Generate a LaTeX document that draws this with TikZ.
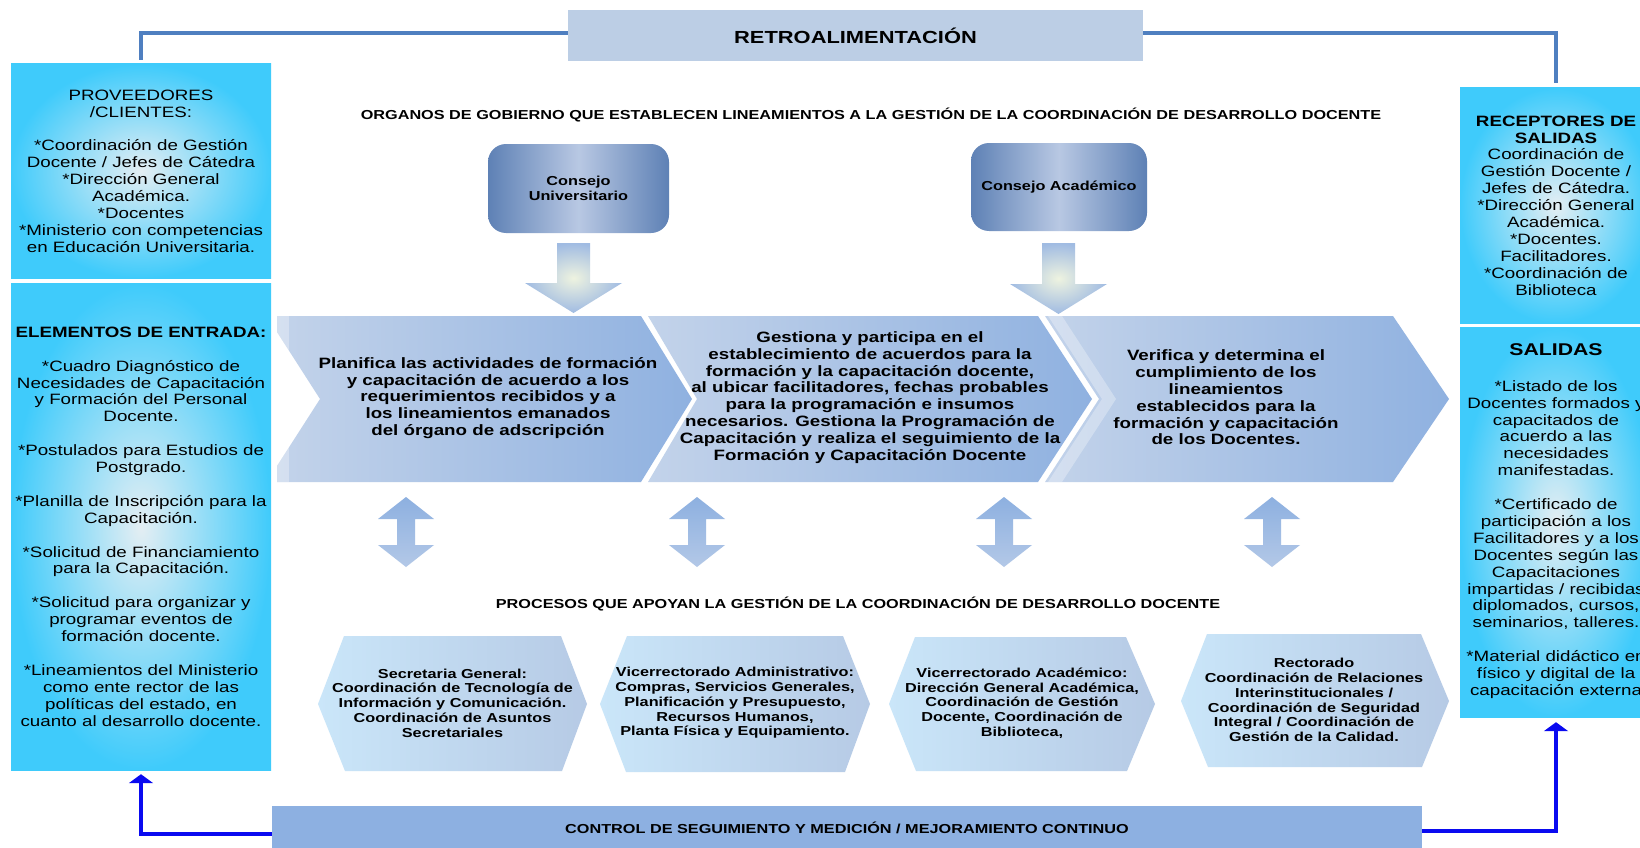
\documentclass[tikz,border=0pt]{standalone}
\usepackage{fontspec}
\newfontfamily\af[FakeStretch=1.25]{Liberation Sans}
\usetikzlibrary{arrows.meta}
\definecolor{cyanout}{HTML}{3FCBFB}
\definecolor{cyanin}{HTML}{E4EEF3}
\definecolor{consedge}{HTML}{5E81B5}
\definecolor{consmid}{HTML}{B8C8E3}
\definecolor{retrofill}{HTML}{BCCEE5}
\definecolor{ctrlfill}{HTML}{8DB0E1}
\definecolor{chevL}{HTML}{C3D3EA}
\definecolor{chevR}{HTML}{8FB1E0}
\definecolor{hexL}{HTML}{CAE6F9}
\definecolor{hexR}{HTML}{B6CAE5}
\definecolor{darrT}{HTML}{8DB0E0}
\definecolor{darrB}{HTML}{B3C8E7}
\definecolor{glow}{HTML}{EEF3E0}
\definecolor{arrblue}{HTML}{A0BBE2}
\definecolor{fbline}{HTML}{4F7FC0}
\definecolor{ctlblue}{HTML}{0A0AF0}
\begin{document}
\begin{tikzpicture}[x=1pt,y=-1pt,
  cbox/.style={rectangle, inner color=cyanin, outer color=cyanout, inner sep=0pt},
  txt/.style={font=\af\fontsize{15}{16.9}\selectfont, align=center, inner sep=0pt},
  chevtxt/.style={font=\af\bfseries\fontsize{15}{16.8}\selectfont, align=center, inner sep=0pt},
  hextxt/.style={font=\af\bfseries\fontsize{13}{14.7}\selectfont, align=center, inner sep=0pt},
  constxt/.style={font=\af\bfseries\fontsize{13}{15.7}\selectfont, align=center, inner sep=0pt},
  headtxt/.style={font=\af\bfseries\fontsize{13}{14}\selectfont, inner sep=0pt},
  consbox/.style={rectangle, rounded corners=18pt, left color=consedge, right color=consedge, middle color=consmid, inner sep=0pt},
  chevshade/.style={left color=chevL, right color=chevR},
  hexshade/.style={left color=hexL, right color=hexR},
  darrshade/.style={top color=darrT, bottom color=darrB},
  barrshade/.style={inner color=glow, outer color=arrblue},
  fb/.style={draw=fbline, line width=3.2pt},
  ctl/.style={draw=ctlblue, line width=4.5pt, -{Triangle[width=24pt,length=9pt]}}
]
\useasboundingbox (0,0) rectangle (1640,848);
\fill[white] (0,0) rectangle (1640,848);
\clip (0,0) rectangle (1640,848);

% ---------- side boxes ----------
\node[cbox, minimum width=260pt, minimum height=214pt, txt] (prov) at (141,171)
 {PROVEEDORES\\/CLIENTES:\\[16.9pt]*Coordinación de Gestión\\Docente / Jefes de Cátedra\\*Dirección General\\Académica.\\*Docentes\\*Ministerio con competencias\\en Educación Universitaria.};

\node[cbox, minimum width=260pt, minimum height=487pt, txt] (entrada) at (141,526.5)
 {\textbf{ELEMENTOS DE ENTRADA:}\\[16.9pt]*Cuadro Diagnóstico de\\Necesidades de Capacitación\\y Formación del Personal\\Docente.\\[16.9pt]*Postulados para Estudios de\\Postgrado.\\[16.9pt]*Planilla de Inscripción para la\\Capacitación.\\[16.9pt]*Solicitud de Financiamiento\\para la Capacitación.\\[16.9pt]*Solicitud para organizar y\\programar eventos de\\formación docente.\\[16.9pt]*Lineamientos del Ministerio\\como ente rector de las\\políticas del estado, en\\cuanto al desarrollo docente.};

\node[cbox, minimum width=192pt, minimum height=235pt, txt] (recep) at (1556,205.5)
 {\textbf{RECEPTORES DE}\\\textbf{SALIDAS}\\Coordinación de\\Gestión Docente /\\Jefes de Cátedra.\\*Dirección General\\Académica.\\*Docentes.\\Facilitadores.\\*Coordinación de\\Biblioteca};

\node[cbox, minimum width=192pt, minimum height=390pt] (salidas) at (1556,522) {};
\node[font=\af\bfseries\fontsize{17}{19}\selectfont, inner sep=0pt] (saltit) at (1556,350) {SALIDAS};
\node[txt] (salbody) at (1556,539.5)
 {*Listado de los\\Docentes formados y\\capacitados de\\acuerdo a las\\necesidades\\manifestadas.\\[16.9pt]*Certificado de\\participación a los\\Facilitadores y a los\\Docentes según las\\Capacitaciones\\impartidas / recibidas\\diplomados, cursos,\\seminarios, talleres.\\[16.9pt]*Material didáctico en\\físico y digital de la\\capacitación externa};

% ---------- top ----------
\node[rectangle, fill=retrofill, minimum width=575pt, minimum height=51pt, inner sep=0pt,
      font=\af\bfseries\fontsize{17.5}{19}\selectfont] (retro) at (855.5,35.5) {RETROALIMENTACIÓN};

\node[headtxt] (h1) at (871,115) {ORGANOS DE GOBIERNO QUE ESTABLECEN LINEAMIENTOS A LA GESTIÓN DE LA COORDINACIÓN DE DESARROLLO DOCENTE};

\node[consbox, minimum width=181pt, minimum height=89pt, constxt] (cu) at (578.5,188.5) {Consejo\\Universitario};
\node[consbox, minimum width=176pt, minimum height=88pt, constxt] (ca) at (1059,187) {Consejo Académico};

% block arrows down
\shade[barrshade] (557,243) -- (590,243) -- (590,283) -- (622,283) -- (573.5,313) -- (525,283) -- (557,283) -- cycle;
\shade[barrshade] (1042,243) -- (1075,243) -- (1075,284) -- (1107,284) -- (1058.5,314) -- (1010,284) -- (1042,284) -- cycle;

% ---------- chevrons ----------
\shade[chevshade] (277,316) -- (641,316) -- (692,399) -- (641,482) -- (277,482) -- (277,466) -- (320,399) -- (277,332) -- cycle;
\begin{scope}
\clip (277,316) -- (641,316) -- (692,399) -- (641,482) -- (277,482) -- (277,466) -- (320,399) -- (277,332) -- cycle;
\fill[white, opacity=.3] (277,316) rectangle (289,482);
\end{scope}
\shade[chevshade] (648,316) -- (1038,316) -- (1092,399) -- (1038,482) -- (648,482) -- (697,399) -- cycle;
\shade[chevshade] (1045,316) -- (1393,316) -- (1449,399) -- (1393,482) -- (1045,482) -- (1099,399) -- cycle;
\fill[white, opacity=.3] (1048,316) -- (1062,316) -- (1116,399) -- (1062,482) -- (1048,482) -- (1102,399) -- cycle;

\node[chevtxt] (ch1t) at (488,398) {Planifica las actividades de formación\\y capacitación de acuerdo a los\\requerimientos recibidos y a\\los lineamientos emanados\\del órgano de adscripción};
\node[chevtxt] (ch2t) at (870,397.5) {Gestiona y participa en el\\establecimiento de acuerdos para la\\formación y la capacitación docente,\\al ubicar facilitadores, fechas probables\\para la programación e insumos\\necesarios. Gestiona la Programación de\\Capacitación y realiza el seguimiento de la\\Formación y Capacitación Docente};
\node[chevtxt] (ch3t) at (1226,397.5) {Verifica y determina el\\cumplimiento de los\\lineamientos\\establecidos para la\\formación y capacitación\\de los Docentes.};

% double arrows
\foreach \c in {406,697,1004,1272}{
  \shade[darrshade] (\c,497) -- ({\c+28},519) -- ({\c+9},519) -- ({\c+9},545) -- ({\c+28},545) -- (\c,567) -- ({\c-28},545) -- ({\c-9},545) -- ({\c-9},519) -- ({\c-28},519) -- cycle;
}

\node[headtxt] (h2) at (858,604.5) {PROCESOS QUE APOYAN LA GESTIÓN DE LA COORDINACIÓN DE DESARROLLO DOCENTE};

% ---------- hexagons ----------
\shade[hexshade] (318,704) -- (344,636) -- (561,636) -- (587,704) -- (562,771) -- (345,771) -- cycle;
\shade[hexshade] (600,704) -- (627,636) -- (843,636) -- (870,704) -- (845,772) -- (626,772) -- cycle;
\shade[hexshade] (889,704) -- (915,637) -- (1126,637) -- (1155,704) -- (1127,771) -- (916,771) -- cycle;
\shade[hexshade] (1181,701) -- (1207,634) -- (1421,634) -- (1449,701) -- (1422,767) -- (1208,767) -- cycle;

\node[hextxt] (hx1t) at (452.5,703) {Secretaria General:\\Coordinación de Tecnología de\\Información y Comunicación.\\Coordinación de Asuntos\\Secretariales};
\node[hextxt] (hx2t) at (735,703) {Vicerrectorado Administrativo:\\Compras, Servicios Generales,\\Planificación y Presupuesto,\\Recursos Humanos,\\Planta Física y Equipamiento.};
\node[hextxt] (hx3t) at (1022,703) {Vicerrectorado Académico:\\Dirección General Académica,\\Coordinación de Gestión\\Docente, Coordinación de\\Biblioteca,};
\node[hextxt] (hx4t) at (1314,700) {Rectorado\\Coordinación de Relaciones\\Interinstitucionales /\\Coordinación de Seguridad\\Integral / Coordinación de\\Gestión de la Calidad.};

% ---------- bottom ----------
\node[rectangle, fill=ctrlfill, minimum width=1150pt, minimum height=44pt, inner sep=0pt,
      font=\af\bfseries\fontsize{13}{14}\selectfont] (ctrl) at (847,828) {CONTROL DE SEGUIMIENTO Y MEDICIÓN / MEJORAMIENTO CONTINUO};

% ---------- connectors ----------
\draw[fb] ([yshift=4pt]prov.north) |- ([yshift=2.5pt]retro.west);
\draw[fb] ([yshift=2.5pt]retro.east) -| ([yshift=5pt]recep.north);
\draw[ctl] ([yshift=-6pt]ctrl.west) -| ([yshift=-4pt]entrada.south);
\draw[ctl] ([yshift=-3pt]ctrl.east) -| ([yshift=-5pt]salidas.south);
\end{tikzpicture}
\end{document}
